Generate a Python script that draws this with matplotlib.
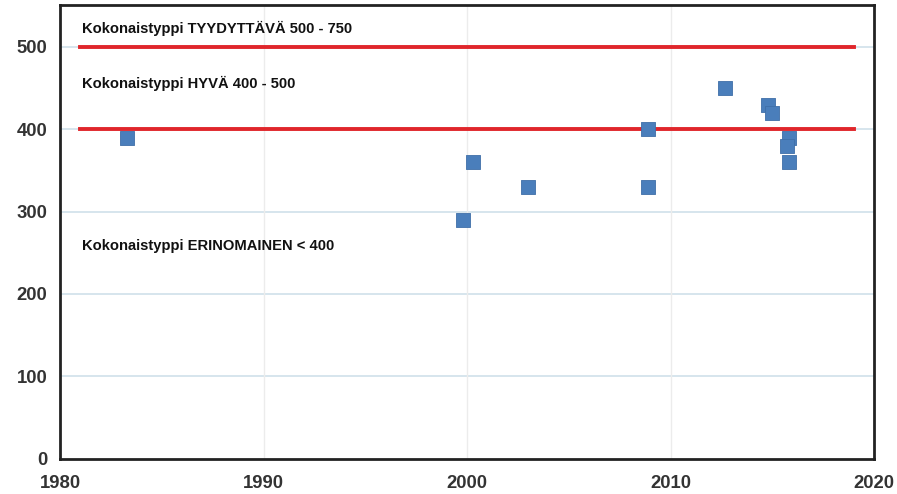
import matplotlib
matplotlib.use("Agg")
import matplotlib.pyplot as plt

plt.rcParams['font.family'] = ['Liberation Sans', 'DejaVu Sans']

years = [1983.3, 1999.8, 2000.3, 2003.0, 2008.9, 2008.9, 2012.7, 2014.8, 2015.0, 2015.8, 2015.7, 2015.8]
values = [390, 290, 360, 330, 400, 330, 450, 430, 420, 390, 380, 360]
limit_values = [500, 400]
limit_span = [1981, 2019]
labels = ["Kokonaistyppi TYYDYTTÄVÄ 500 - 750",
          "Kokonaistyppi HYVÄ 400 - 500",
          "Kokonaistyppi ERINOMAINEN < 400"]
label_y = [523, 456, 258]
xticks = [1980, 1990, 2000, 2010, 2020]
yticks = [0, 100, 200, 300, 400, 500]

fig = plt.figure(figsize=(8.97, 4.94), dpi=100)
ax = fig.add_axes([0.0669, 0.0715, 0.9075, 0.9185])
ax.set_xlim(1980, 2020)
ax.set_ylim(0, 551)

ax.set_xticks(xticks)
ax.set_yticks(yticks)
for yv in yticks[1:]:
    ax.axhline(yv, color='#cfe0ea', lw=1.2, zorder=0)
for xv in xticks[1:-1]:
    ax.axvline(xv, color='#ececec', lw=1.0, zorder=0)

for lv in limit_values:
    ax.plot(limit_span, [lv, lv], color='#e0262b', lw=2.8, zorder=2)

ax.scatter(years, values, marker='s', s=95, color='#4a7ebb', edgecolors='#3f6fa8', linewidths=0.6, zorder=3)

for t, yv in zip(labels, label_y):
    ax.text(1981.1, yv, t, fontsize=10.6, fontweight='bold', color='#111111', va='center', ha='left')

ax.tick_params(axis='both', length=0, labelsize=13.3, colors='#333333')
ax.tick_params(axis='y', pad=9)
ax.tick_params(axis='x', pad=12)
for lab in ax.get_xticklabels() + ax.get_yticklabels():
    lab.set_fontweight('bold')

for s in ax.spines.values():
    s.set_color('#222222')
    s.set_linewidth(2.0)

fig.savefig('out.png', dpi=100)
